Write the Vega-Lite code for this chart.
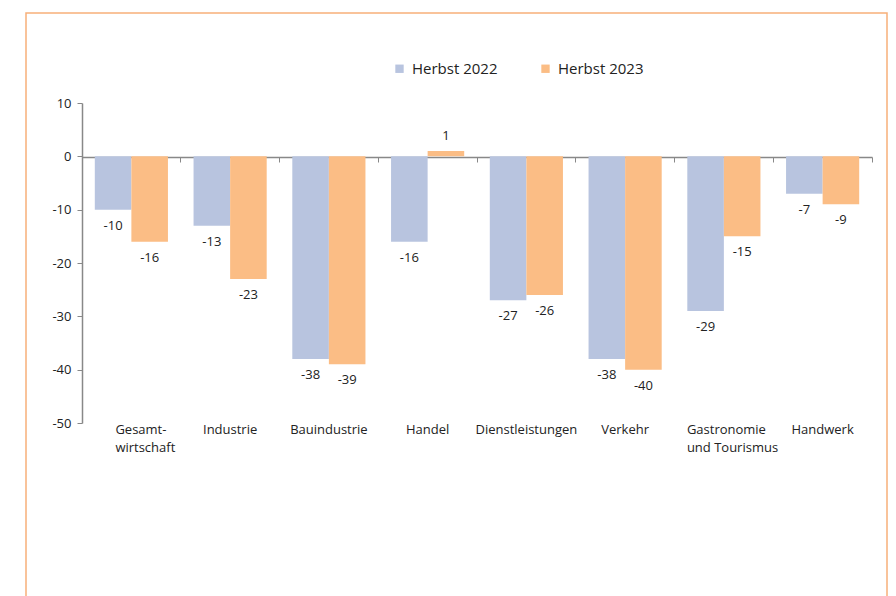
{
  "$schema": "https://vega.github.io/schema/vega-lite/v6.json",
  "autosize": "none",
  "width": 861,
  "height": 585,
  "padding": {"left": 26, "top": 13, "right": 9, "bottom": -2},
  "background": "white",
  "config": {
    "font": "Open Sans",
    "view": {"stroke": "#f7b07a", "strokeWidth": 1.5},
    "axis": {"labelColor": "#222222", "labelFont": "Open Sans", "labelFontSize": 13, "title": null, "grid": false}
  },
  "data": {
    "values": [
      {"cat": "Gesamt-|wirtschaft", "series": "Herbst 2022", "value": -10},
      {"cat": "Gesamt-|wirtschaft", "series": "Herbst 2023", "value": -16},
      {"cat": "Industrie", "series": "Herbst 2022", "value": -13},
      {"cat": "Industrie", "series": "Herbst 2023", "value": -23},
      {"cat": "Bauindustrie", "series": "Herbst 2022", "value": -38},
      {"cat": "Bauindustrie", "series": "Herbst 2023", "value": -39},
      {"cat": "Handel", "series": "Herbst 2022", "value": -16},
      {"cat": "Handel", "series": "Herbst 2023", "value": 1},
      {"cat": "Dienstleistungen", "series": "Herbst 2022", "value": -27},
      {"cat": "Dienstleistungen", "series": "Herbst 2023", "value": -26},
      {"cat": "Verkehr", "series": "Herbst 2022", "value": -38},
      {"cat": "Verkehr", "series": "Herbst 2023", "value": -40},
      {"cat": "Gastronomie|und Tourismus", "series": "Herbst 2022", "value": -29},
      {"cat": "Gastronomie|und Tourismus", "series": "Herbst 2023", "value": -15},
      {"cat": "Handwerk", "series": "Herbst 2022", "value": -7},
      {"cat": "Handwerk", "series": "Herbst 2023", "value": -9}
    ]
  },
  "encoding": {
    "x": {
      "field": "cat", "type": "nominal",
      "sort": ["Gesamt-|wirtschaft", "Industrie", "Bauindustrie", "Handel", "Dienstleistungen", "Verkehr", "Gastronomie|und Tourismus", "Handwerk"],
      "scale": {"range": [56, 846], "paddingInner": 0, "paddingOuter": 0}
    },
    "xOffset": {"field": "series", "type": "nominal", "scale": {"paddingOuter": 0.35, "paddingInner": 0}},
    "y": {"field": "value", "type": "quantitative", "scale": {"domain": [-50, 10], "range": [410, 90], "nice": false, "zero": false}}
  },
  "layer": [
    {
      "mark": {"type": "bar"},
      "encoding": {
        "x": {
          "field": "cat", "type": "nominal",
          "sort": ["Gesamt-|wirtschaft", "Industrie", "Bauindustrie", "Handel", "Dienstleistungen", "Verkehr", "Gastronomie|und Tourismus", "Handwerk"],
          "axis": {"orient": "top", "offset": -144, "labels": false, "domainColor": "#888888", "domainWidth": 1.5, "tickColor": "#888888", "tickSize": -5, "bandPosition": 1, "tickExtra": true}
        },
        "y": {
          "field": "value", "type": "quantitative",
          "axis": {"orient": "left", "offset": -56, "values": [-50, -40, -30, -20, -10, 0, 10], "labelExpr": "datum.value + ''", "domainColor": "#888888", "domainWidth": 1.5, "tickColor": "#888888", "tickSize": 5, "labelPadding": 6}
        },
        "color": {
          "field": "series", "type": "nominal",
          "scale": {"domain": ["Herbst 2022", "Herbst 2023"], "range": ["#b8c4df", "#fbbd85"]},
          "legend": {"orient": "none", "legendX": 366, "legendY": 48, "direction": "horizontal", "title": null, "symbolType": "square", "symbolSize": 70, "symbolStrokeWidth": 0, "labelFontSize": 15, "labelColor": "#222222", "labelFont": "Open Sans", "columnPadding": 40, "labelOffset": 5}
        }
      }
    },
    {
      "transform": [{"filter": "datum.value < 0"}],
      "mark": {"type": "text", "baseline": "middle", "dy": 16, "fontSize": 13, "color": "#222222", "font": "Open Sans"},
      "encoding": {
        "x": {
          "field": "cat", "type": "nominal",
          "sort": ["Gesamt-|wirtschaft", "Industrie", "Bauindustrie", "Handel", "Dienstleistungen", "Verkehr", "Gastronomie|und Tourismus", "Handwerk"],
          "axis": {
            "orient": "bottom", "offset": -175, "domain": false, "ticks": false, "labelAngle": 0, "labelPadding": 0, "labelLineHeight": 18,
            "labelExpr": "split(datum.label, '|')",
            "labelAlign": {"condition": {"test": "indexof(datum.value, '|') >= 0", "value": "left"}, "value": "center"},
            "labelOffset": {"condition": [{"test": "datum.value == 'Gesamt-|wirtschaft'", "value": -16}, {"test": "datum.value == 'Gastronomie|und Tourismus'", "value": -37}], "value": 0}
          }
        },
        "y": {"field": "value", "type": "quantitative", "axis": null},
        "text": {"field": "value", "type": "nominal"}
      }
    },
    {
      "transform": [{"filter": "datum.value >= 0"}],
      "mark": {"type": "text", "baseline": "middle", "dy": -15, "fontSize": 13, "color": "#222222", "font": "Open Sans"},
      "encoding": {
        "x": {
          "field": "cat", "type": "nominal",
          "sort": ["Gesamt-|wirtschaft", "Industrie", "Bauindustrie", "Handel", "Dienstleistungen", "Verkehr", "Gastronomie|und Tourismus", "Handwerk"],
          "axis": null
        },
        "y": {"field": "value", "type": "quantitative", "axis": null},
        "text": {"field": "value", "type": "nominal"}
      }
    }
  ],
  "resolve": {"axis": {"x": "independent", "y": "independent"}}
}
